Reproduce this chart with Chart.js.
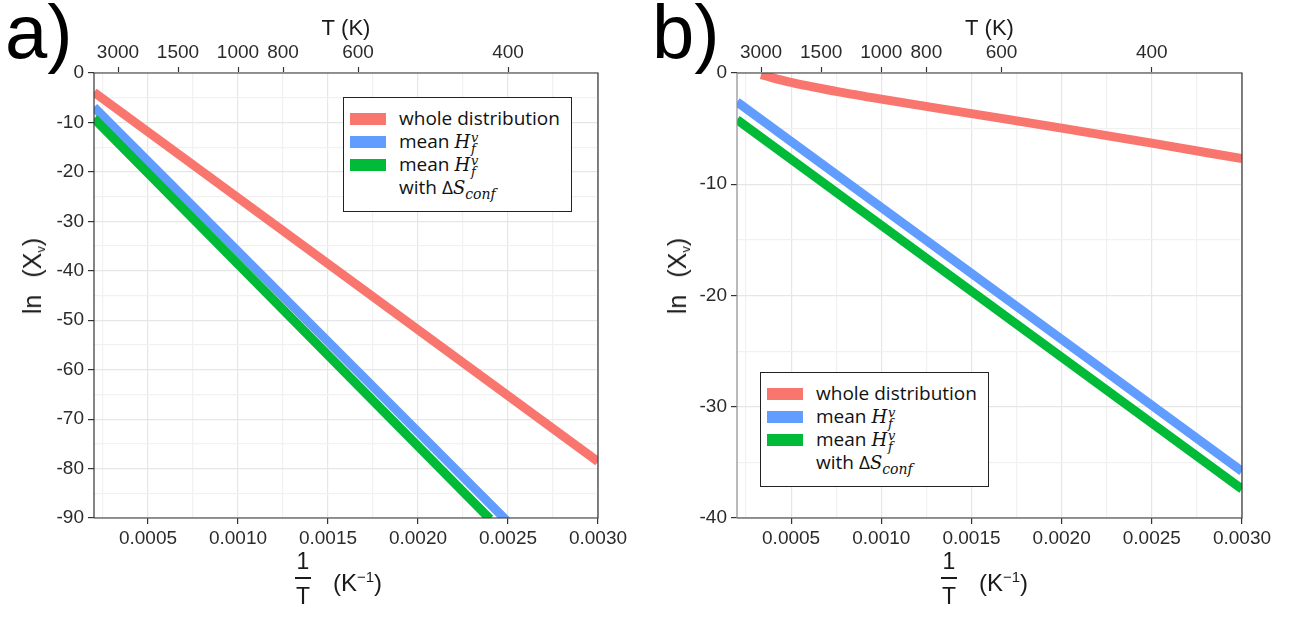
<!DOCTYPE html>
<html>
<head>
<meta charset="utf-8">
<script src="https://cdn.jsdelivr.net/npm/chart.js@4.4.1/dist/chart.umd.min.js"></script>
<style>
  body { margin: 0; background: #fff; width: 1290px; height: 619px; overflow: hidden; position: relative;
         font-family: 'Liberation Sans', Arial, sans-serif; color: #1a1a1a; }
  .panel { position: absolute; top: 0; width: 645px; height: 619px; }
  .panel canvas { position: absolute; left: 0; top: 0; }
  .tag { position: absolute; top: -11px; font-size: 76px; line-height: 86px; color: #000; }
  .ytitle { position: absolute; font-size: 25px; white-space: nowrap; transform: translate(-50%, -50%) rotate(-90deg); }
  .ytitle .ln { margin-right: 17px; }
  .ytitle sub { font-size: 13px; vertical-align: -4px; }
  .frac { position: absolute; font-size: 23px; line-height: 22px; text-align: center; width: 20px; }
  .frac .bar { height: 2px; background: #1a1a1a; margin: 5px 2px 6px 2px; }
  .unit { position: absolute; font-size: 24px; white-space: nowrap; }
  .unit sup { font-size: 15px; vertical-align: 9px; }
  .legend { position: absolute; background: #fff; border: 1px solid #222; box-sizing: border-box;
            font-family: 'Open Sans', 'Noto Sans', sans-serif; font-size: 19px; color: #111; }
  .legend .row { position: absolute; left: 6px; height: 23px; line-height: 23px; white-space: nowrap; }
  .legend .sw { position: absolute; left: 0; top: 5px; width: 36px; height: 12px; }
  .legend .txt { position: absolute; left: 49px; top: -1px; }
  .m { font-family: 'DejaVu Serif', 'Liberation Serif', serif; font-style: italic; font-size: 18px; }
  .ss { display: inline-block; vertical-align: -5px; font-size: 13px; line-height: 11px; margin-left: 1px; }
  .ss span { display: block; }
  .m sub { font-size: 14px; vertical-align: -5px; }
</style>
</head>
<body>
<div class="panel" id="pa" style="left:0">
  <canvas id="chartA"></canvas>
  <div class="tag" style="left:5px">a)</div>
  <div class="ytitle" style="left:33px;top:276px"><span class="ln">ln</span>(X<sub>v</sub>)</div>
  <div class="frac" style="left:293px;top:550px"><div>1</div><div class="bar"></div><div>T</div></div>
  <div class="unit" style="left:333px;top:568px">(K<sup>−1</sup>)</div>
</div>
<div class="panel" id="pb" style="left:645px">
  <canvas id="chartB"></canvas>
  <div class="tag" style="left:7px">b)</div>
  <div class="ytitle" style="left:33px;top:276px"><span class="ln">ln</span>(X<sub>v</sub>)</div>
  <div class="frac" style="left:294px;top:550px"><div>1</div><div class="bar"></div><div>T</div></div>
  <div class="unit" style="left:334px;top:568px">(K<sup>−1</sup>)</div>
</div>
<script>
// axis ticks
const xMajorTicks = [0.0005, 0.0010, 0.0015, 0.0020, 0.0025, 0.0030];
const xMinorTicks = [0.00025, 0.00075, 0.00125, 0.00175, 0.00225, 0.00275];
const topTempTicks = [3000, 1500, 1000, 800, 600, 400];
const aYMajor = [0, -10, -20, -30, -40, -50, -60, -70, -80, -90];
const aYMinor = [-5, -15, -25, -35, -45, -55, -65, -75, -85];
const bYMajor = [0, -10, -20, -30, -40];
const bYMinor = [-5, -15, -25, -35];

// panel a series (x = 1/T, y = ln Xv)
const aWholeX = [0.0002, 0.0030];
const aWholeY = [-3.9, -78.6];
const aMeanX = [0.0002, 0.0025];
const aMeanY = [-6.9, -90.8];
const aConfX = [0.0002, 0.0024];
const aConfY = [-9.2, -90.2];

// panel b series
const bWholeX = [0.000333, 0.0005, 0.00075, 0.0010, 0.0015, 0.0020, 0.0025, 0.0030];
const bWholeY = [-0.15, -0.85, -1.65, -2.35, -3.65, -4.95, -6.3, -7.7];
const bMeanX = [0.0002, 0.0030];
const bMeanY = [-2.6, -35.8];
const bConfX = [0.0002, 0.0030];
const bConfY = [-4.2, -37.4];

const seriesNames = ['whole distribution', 'mean H', 'mean H with dS'];
const seriesColors = ['#F8766D', '#619CFF', '#00BA38'];
const legendHtml = [
  'whole distribution',
  'mean <span class="m">H<span class="ss"><span>v</span><span>f</span></span></span>',
  'mean <span class="m">H<span class="ss"><span>v</span><span>f</span></span></span>'
];

Chart.defaults.font.family = "'Liberation Sans', Arial, sans-serif";

function pts(xs, ys) {
  return xs.map((x, i) => ({ x: x, y: ys[i] }));
}

function mergeTicks(major, minor) {
  return major.map(v => ({ value: v, major: true }))
    .concat(minor.map(v => ({ value: v, major: false })))
    .sort((a, b) => a.value - b.value);
}

const frame = {
  id: 'frame',
  afterDatasetsDraw(chart, args, opts) {
    const a = chart.chartArea;
    const c = chart.ctx;
    c.save();
    c.lineWidth = 1.2;
    c.strokeStyle = '#333';
    c.beginPath();
    c.moveTo(a.left, a.bottom);
    c.lineTo(a.right, a.bottom);
    c.lineTo(a.right, a.top);
    c.lineTo(a.left, a.top);
    c.stroke();
    c.strokeStyle = opts.leftColor || '#333';
    c.beginPath();
    c.moveTo(a.left, a.top);
    c.lineTo(a.left, a.bottom);
    c.stroke();
    c.restore();
  }
};

function makePanel(id, series, yMajor, yMinor, yMin, yWidth, rightPad, leftColor) {
  const gridColor = ctx => ctx.tick && ctx.tick.major ? '#e6e6e6' : '#f1f1f1';
  const tickColor = ctx => ctx.tick && ctx.tick.major ? '#333' : 'rgba(0,0,0,0)';
  return new Chart(document.getElementById(id), {
    type: 'line',
    data: {
      datasets: series.map((s, i) => ({
        label: seriesNames[i],
        data: s,
        borderColor: seriesColors[i],
        backgroundColor: seriesColors[i],
        borderWidth: 9,
        pointRadius: 0,
        cubicInterpolationMode: 'monotone',
        clip: 0,
        order: 3 - i
      }))
    },
    options: {
      responsive: true,
      maintainAspectRatio: false,
      animation: false,
      layout: { padding: { left: 0, right: rightPad, top: 0, bottom: 0 } },
      plugins: {
        legend: { display: false },
        tooltip: { enabled: false },
        frame: { leftColor: leftColor }
      },
      scales: {
        x: {
          type: 'linear',
          position: 'bottom',
          min: 0.0002,
          max: 0.0030,
          afterBuildTicks: s => { s.ticks = mergeTicks(xMajorTicks, xMinorTicks); },
          afterFit: s => { s.height = 101; },
          border: { display: false },
          grid: { color: gridColor, lineWidth: 1.2, tickColor: tickColor, tickLength: 6, tickWidth: 1.2 },
          ticks: {
            autoSkip: false, maxRotation: 0, padding: 3,
            color: '#2b2b2b', font: { size: 19 },
            callback: (v, i, t) => t[i].major ? v.toFixed(4) : ''
          }
        },
        xTop: {
          type: 'linear',
          position: 'top',
          min: 0.0002,
          max: 0.0030,
          afterBuildTicks: s => { s.ticks = topTempTicks.map(T => ({ value: 1 / T })); },
          afterFit: s => { s.height = 73; },
          border: { display: false },
          grid: { drawOnChartArea: false, tickColor: '#333', tickLength: 6, tickWidth: 1.2 },
          title: { display: true, text: 'T (K)', color: '#1a1a1a', font: { size: 22 }, padding: { top: 16, bottom: 0 } },
          ticks: {
            autoSkip: false, maxRotation: 0, padding: 3,
            color: '#2b2b2b', font: { size: 19 },
            callback: v => String(Math.round(1 / v))
          }
        },
        y: {
          type: 'linear',
          min: yMin,
          max: 0,
          afterBuildTicks: s => { s.ticks = mergeTicks(yMajor, yMinor); },
          afterFit: s => { s.width = yWidth; },
          border: { display: false },
          grid: { color: gridColor, lineWidth: 1.2, tickColor: tickColor, tickLength: 6, tickWidth: 1.2 },
          ticks: {
            autoSkip: false, padding: 4,
            color: '#2b2b2b', font: { size: 19 },
            callback: (v, i, t) => t[i].major ? String(v) : ''
          }
        }
      }
    },
    plugins: [frame]
  });
}

function makeLegend(panelId, left, top) {
  const box = document.createElement('div');
  box.className = 'legend';
  box.style.left = left + 'px';
  box.style.top = top + 'px';
  box.style.width = '229px';
  box.style.height = '115px';
  legendHtml.forEach((html, i) => {
    const row = document.createElement('div');
    row.className = 'row';
    row.style.top = (10 + i * 23) + 'px';
    row.innerHTML = '<span class="sw" style="background:' + seriesColors[i] + '"></span><span class="txt">' + html + '</span>';
    box.appendChild(row);
  });
  const extra = document.createElement('div');
  extra.className = 'row';
  extra.style.top = (10 + 3 * 23) + 'px';
  extra.innerHTML = '<span class="txt">with \u0394<span class="m">S<sub>conf</sub></span></span>';
  box.appendChild(extra);
  document.getElementById(panelId).appendChild(box);
}

makePanel('chartA', [pts(aWholeX, aWholeY), pts(aMeanX, aMeanY), pts(aConfX, aConfY)],
  aYMajor, aYMinor, -90, 94, 47, '#333');
makePanel('chartB', [pts(bWholeX, bWholeY), pts(bMeanX, bMeanY), pts(bConfX, bConfY)],
  bYMajor, bYMinor, -40, 92, 48, '#8c8c8c');

makeLegend('pa', 343, 97);
makeLegend('pb', 760 - 645, 372);
</script>
</body>
</html>
